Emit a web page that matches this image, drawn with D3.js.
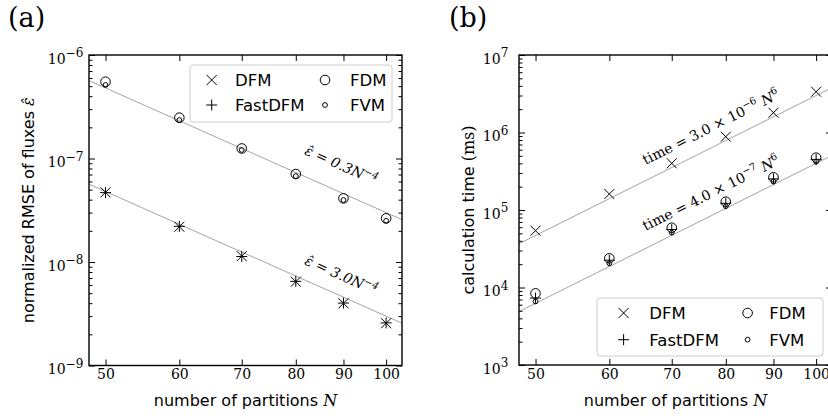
<!DOCTYPE html>
<html>
<head>
<meta charset="utf-8">
<script src="https://cdn.jsdelivr.net/npm/d3@7"></script>
<style>
  body { margin: 0; background: #fff; }
  svg { display: block; }
</style>
</head>
<body>
<script>
// number of partitions N (x axis of both panels)
const partitions = [50, 60, 70, 80, 90, 100];
const xTicks = [50, 60, 70, 80, 90, 100];

// (a) normalized RMSE of fluxes
const rmseDFM     = [4.71e-8, 2.19e-8, 1.14e-8, 6.46e-9, 3.99e-9, 2.56e-9];
const rmseFastDFM = [4.68e-8, 2.21e-8, 1.13e-8, 6.50e-9, 4.01e-9, 2.58e-9];
const rmseFDM     = [5.52e-7, 2.48e-7, 1.25e-7, 7.08e-8, 4.12e-8, 2.64e-8];
const rmseFVM     = [5.13e-7, 2.35e-7, 1.21e-7, 6.76e-8, 3.97e-8, 2.50e-8];
const rmseTicks   = [1e-9, 1e-8, 1e-7, 1e-6];
const rmseTickExp = ["−9", "−8", "−7", "−6"];
const rmseFitCoef = [3.0, 0.3];        // eps = c * N^-4
const rmseFitPow  = -4;
const rmseNoteN   = [89.5, 89.5];
const rmseNoteV   = [8.65e-8, 7.48e-9];

// (b) calculation time (ms)
const timeDFM     = [5.41e4, 1.61e5, 4.00e5, 8.83e5, 1.80e6, 3.36e6];
const timeFastDFM = [7.30e3, 2.25e4, 5.60e4, 1.22e5, 2.52e5, 4.50e5];
const timeFDM     = [8.40e3, 2.38e4, 5.90e4, 1.28e5, 2.64e5, 4.73e5];
const timeFVM     = [6.60e3, 2.05e4, 5.10e4, 1.12e5, 2.33e5, 4.20e5];
const timeTicks   = [1e3, 1e4, 1e5, 1e6, 1e7];
const timeTickExp = ["3", "4", "5", "6", "7"];
const timeFitCoef = [3.0e-6, 4.0e-7];  // time = c * N^6
const timeFitPow  = 6;
const timeNoteN   = [77.1, 77.1];
const timeNoteV   = [1.18e6, 1.66e5];

const legendNames = ["DFM", "FDM", "FastDFM", "FVM"];
const legendMarks = ["x", "O", "+", "o"];

const SERIF = "DejaVu Serif", SANS = "DejaVu Sans";
const xDomain = [48, 104];

const svg = d3.select("body").append("svg").attr("width", 828).attr("height", 418);

function marker(g, type, cx, cy) {
  const m = g.append("g").attr("transform", `translate(${cx},${cy})`)
    .attr("fill", "none").attr("stroke", "#000").attr("stroke-width", 1);
  if (type === "x") m.append("path").attr("d", "M-5,-5L5,5M-5,5L5,-5");
  else if (type === "+") m.append("path").attr("d", "M-5.5,0L5.5,0M0,-5.5L0,5.5");
  else if (type === "O") m.append("circle").attr("r", 4.8);
  else m.append("circle").attr("r", 2.4);
}

// text made of parts, some of them superscripts
function richText(sel, parts, size, supSize, shift) {
  let up = false;
  parts.forEach(p => {
    const ts = sel.append("tspan").text(p.t);
    if (p.f) ts.attr("font-family", p.f);
    if (p.i) ts.attr("font-style", "italic");
    if (p.sup && !up) { ts.attr("dy", -shift).attr("font-size", supSize); up = true; }
    else if (p.sup) ts.attr("font-size", supSize);
    else if (up) { ts.attr("dy", shift); up = false; }
  });
}

function drawPanel(c) {
  const x = d3.scaleLog().domain(xDomain).range([c.left, c.right]);
  const y = d3.scaleLog().domain(c.yDomain).range([c.bottom, c.top]);
  const g = svg.append("g");

  g.append("clipPath").attr("id", "clip" + c.id).append("rect")
    .attr("x", c.left).attr("y", c.top)
    .attr("width", c.right - c.left).attr("height", c.bottom - c.top);

  // fitted power laws
  const fit = (k, n) => c.fitCoef[k] * Math.pow(n, c.fitPow);
  c.fitCoef.forEach((coef, k) => {
    g.append("line").attr("clip-path", `url(#clip${c.id})`)
      .attr("x1", x(xDomain[0])).attr("y1", y(fit(k, xDomain[0])))
      .attr("x2", x(xDomain[1])).attr("y2", y(fit(k, xDomain[1])))
      .attr("stroke", "#a3a3a3").attr("stroke-width", 1);
  });

  // data markers
  c.series.forEach(s => {
    s.values.forEach((v, i) => marker(g, s.mark, x(partitions[i]), y(v)));
  });

  // annotations along the fits
  const ang = Math.atan2(y(fit(0, 100)) - y(fit(0, 50)), x(100) - x(50)) * 180 / Math.PI;
  c.notes.forEach((parts, k) => {
    const t = g.append("text")
      .attr("transform", `translate(${x(c.noteN[k])},${y(c.noteV[k])}) rotate(${ang})`)
      .attr("text-anchor", "middle").attr("y", 5)
      .attr("font-family", SERIF).attr("font-size", 14)
      .attr("font-style", c.noteItalic ? "italic" : "normal");
    richText(t, parts, 14, 10, 6);
  });

  // axes
  const minors = y.ticks().filter(d => !c.yTicks.some(m => Math.abs(m - d) / d < 1e-6));
  const styleAxis = a => {
    a.select(".domain").remove();
    a.selectAll("line").attr("stroke", "#000").attr("stroke-width", 1);
  };
  g.append("g").attr("transform", `translate(0,${c.bottom})`)
    .call(d3.axisBottom(x).tickValues(xTicks).tickFormat(d3.format("d"))
      .tickSizeInner(-6).tickSizeOuter(0).tickPadding(4))
    .call(styleAxis)
    .call(a => a.selectAll("text").attr("font-family", SERIF).attr("font-size", 14).attr("fill", "#000"));
  g.append("g").attr("transform", `translate(0,${c.top})`)
    .call(d3.axisTop(x).tickValues(xTicks).tickFormat("").tickSizeInner(-6).tickSizeOuter(0))
    .call(styleAxis);

  const left = g.append("g").attr("transform", `translate(${c.left},0)`)
    .call(d3.axisLeft(y).tickValues(c.yTicks).tickSizeInner(-6).tickSizeOuter(0).tickPadding(c.labelPad))
    .call(styleAxis);
  left.selectAll("text").each(function(d, i) {
    const t = d3.select(this).text(null).attr("dy", null)
      .attr("font-family", SERIF).attr("font-size", 14).attr("fill", "#000");
    t.append("tspan").attr("dy", 8.4).text("10");
    t.append("tspan").attr("dy", -6.6).attr("font-size", 12).text(c.yTickExp[i]);
  });
  g.append("g").attr("transform", `translate(${c.left},0)`)
    .call(d3.axisLeft(y).tickValues(minors).tickFormat("").tickSizeInner(-3.5).tickSizeOuter(0))
    .call(styleAxis);
  g.append("g").attr("transform", `translate(${c.right},0)`)
    .call(d3.axisRight(y).tickValues(c.yTicks).tickFormat("").tickSizeInner(-6).tickSizeOuter(0))
    .call(styleAxis);
  g.append("g").attr("transform", `translate(${c.right},0)`)
    .call(d3.axisRight(y).tickValues(minors).tickFormat("").tickSizeInner(-3.5).tickSizeOuter(0))
    .call(styleAxis);

  g.append("rect").attr("x", c.left).attr("y", c.top)
    .attr("width", c.right - c.left).attr("height", c.bottom - c.top)
    .attr("fill", "none").attr("stroke", "#000").attr("stroke-width", 1.4);

  // axis titles
  const xl = g.append("text").attr("x", (c.left + c.right) / 2).attr("y", 406)
    .attr("text-anchor", "middle").attr("font-family", SANS).attr("font-size", 16);
  richText(xl, [{ t: "number of partitions " }, { t: "N", f: SERIF, i: true }], 16, 12, 6);

  const yl = g.append("text")
    .attr("transform", `translate(${c.yLabelX},${(c.top + c.bottom) / 2}) rotate(-90)`)
    .attr("text-anchor", "middle").attr("font-family", SANS).attr("font-size", 16);
  richText(yl, c.yLabel, 16, 12, 6);

  g.append("text").attr("x", c.tagX).attr("y", 27)
    .attr("font-family", SERIF).attr("font-size", 27).text(c.tag);

  // legend
  const L = c.legend;
  const lg = g.append("g").attr("transform", `translate(${L.x},${L.y})`);
  lg.append("rect").attr("width", L.w).attr("height", L.h).attr("rx", 3)
    .attr("fill", "#fff").attr("fill-opacity", 0.8).attr("stroke", "#cccccc").attr("stroke-width", 1);
  legendNames.forEach((name, i) => {
    const col = i % 2, row = Math.floor(i / 2);
    const cy = L.row0 + row * L.rowGap;
    marker(lg, legendMarks[i], L.markX[col], cy);
    lg.append("text").attr("x", L.textX[col]).attr("y", cy + 6)
      .attr("font-family", SANS).attr("font-size", 16.5).text(name);
  });
}

drawPanel({
  id: "a", tag: "(a)", tagX: 8,
  left: 89, right: 402, top: 55, bottom: 365.5,
  yDomain: [1e-9, 1e-6], yTicks: rmseTicks, yTickExp: rmseTickExp, labelPad: 5.7,
  series: [
    { mark: "x", values: rmseDFM }, { mark: "+", values: rmseFastDFM },
    { mark: "O", values: rmseFDM }, { mark: "o", values: rmseFVM }
  ],
  fitCoef: rmseFitCoef, fitPow: rmseFitPow, noteN: rmseNoteN, noteV: rmseNoteV, noteItalic: true,
  notes: [
    [{ t: "ε̂ = 0.3N" }, { t: "−4", sup: true }],
    [{ t: "ε̂ = 3.0N" }, { t: "−4", sup: true }]
  ],
  yLabelX: 34,
  yLabel: [{ t: "normalized RMSE of fluxes " }, { t: "ε̂", f: SERIF, i: true }],
  legend: { x: 190, y: 65, w: 202, h: 57, row0: 15, rowGap: 25, markX: [21.7, 135], textX: [45, 160] }
});

drawPanel({
  id: "b", tag: "(b)", tagX: 449,
  left: 519, right: 832, top: 55, bottom: 365,
  yDomain: [1e3, 1e7], yTicks: timeTicks, yTickExp: timeTickExp, labelPad: 10.7,
  series: [
    { mark: "x", values: timeDFM }, { mark: "+", values: timeFastDFM },
    { mark: "O", values: timeFDM }, { mark: "o", values: timeFVM }
  ],
  fitCoef: timeFitCoef, fitPow: timeFitPow, noteN: timeNoteN, noteV: timeNoteV, noteItalic: false,
  notes: [
    [{ t: "time = 3.0 × 10" }, { t: "−6", sup: true }, { t: " " }, { t: "N", i: true }, { t: "6", sup: true }],
    [{ t: "time = 4.0 × 10" }, { t: "−7", sup: true }, { t: " " }, { t: "N", i: true }, { t: "6", sup: true }]
  ],
  yLabelX: 474,
  yLabel: [{ t: "calculation time " }, { t: "(ms)", f: SERIF }],
  legend: { x: 597, y: 298, w: 226, h: 58, row0: 15, rowGap: 26.7, markX: [26.6, 150.6], textX: [52.3, 172.3] }
});
</script>
</body>
</html>
